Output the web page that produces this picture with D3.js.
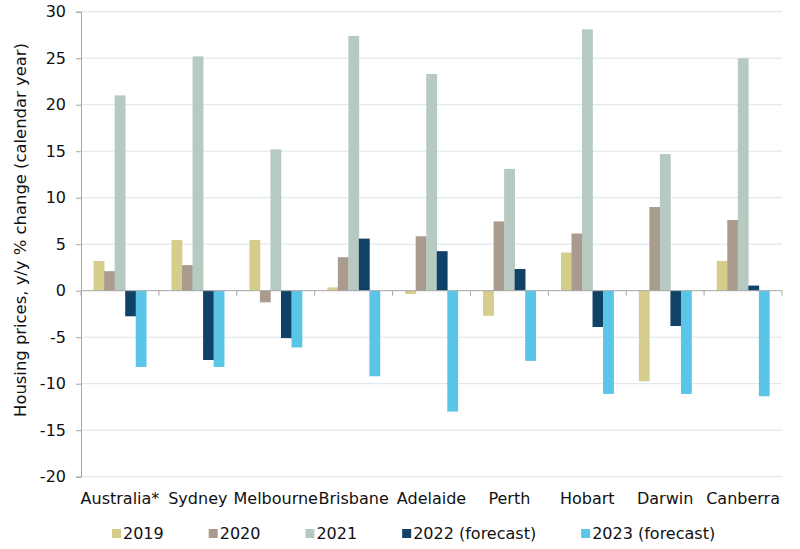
<!DOCTYPE html>
<html><head><meta charset="utf-8">
<script src="https://cdn.jsdelivr.net/npm/d3@7"></script>
<style>
html,body{margin:0;padding:0;background:#fff;}
svg text{font-family:"DejaVu Sans",Verdana,sans-serif;font-size:16px;fill:#111;}
</style></head>
<body>
<svg id="chart" width="800" height="549"></svg>
<script>
const categories = ["Australia*","Sydney","Melbourne","Brisbane","Adelaide","Perth","Hobart","Darwin","Canberra"];
const seriesNames = ["2019","2020","2021","2022 (forecast)","2023 (forecast)"];
const v2019 = [3.2, 5.45, 5.45, 0.35, -0.35, -2.7, 4.1, -9.75, 3.2];
const v2020 = [2.1, 2.75, -1.25, 3.6, 5.85, 7.45, 6.15, 9.0, 7.6];
const v2021 = [21.0, 25.2, 15.2, 27.4, 23.3, 13.1, 28.1, 14.7, 25.0];
const v2022 = [-2.75, -7.45, -5.1, 5.6, 4.25, 2.33, -3.9, -3.8, 0.55];
const v2023 = [-8.2, -8.2, -6.1, -9.2, -13.0, -7.55, -11.1, -11.1, -11.35];
const yTicks = [30,25,20,15,10,5,0,-5,-10,-15,-20];
const colors = ["#d4cd8b","#a99b8e","#b6cac2","#0f4266","#5bc5e8"];
const seriesValues = [v2019, v2020, v2021, v2022, v2023];

const svg = d3.select("#chart");
const mLeft = 81, mRight = 782, mTop = 11.7, mBottom = 476.7;

const y = d3.scaleLinear().domain([-20, 30]).range([mBottom, mTop]);
const x = d3.scaleBand().domain(categories).range([mLeft, mRight]).padding(0);
const xs = d3.scaleBand().domain(seriesNames).range([0, x.bandwidth()]).paddingInner(0).paddingOuter(1.2);

// gridlines
svg.append("g").selectAll("line").data(yTicks.filter(d => d !== 0)).join("line")
  .attr("x1", mLeft).attr("x2", mRight)
  .attr("y1", d => y(d)).attr("y2", d => y(d))
  .attr("stroke", "#dbe4ea").attr("stroke-width", 1);

// y axis
const yAxis = svg.append("g").attr("transform", `translate(${mLeft},0)`)
  .call(d3.axisLeft(y).tickValues(yTicks).tickSize(5).tickPadding(10).tickFormat(d => String(d)));
yAxis.select(".domain").attr("stroke", "#a6a6a6");
yAxis.selectAll(".tick line").attr("stroke", "#a6a6a6");
yAxis.selectAll("text").style("font-size", "16px").attr("fill", "#111");

// bars
const data = [];
categories.forEach((c, i) => seriesNames.forEach((s, j) => data.push({c, s, j, v: seriesValues[j][i]})));
svg.append("g").selectAll("rect").data(data).join("rect")
  .attr("x", d => x(d.c) + xs(d.s))
  .attr("width", xs.bandwidth() + 0.3)
  .attr("y", d => y(Math.max(0, d.v)))
  .attr("height", d => Math.abs(y(d.v) - y(0)))
  .attr("fill", d => colors[d.j]);

// x axis at zero
const xAxis = svg.append("g").attr("transform", `translate(0,${y(0)})`);
xAxis.append("line").attr("x1", mLeft).attr("x2", mRight).attr("y1", 0).attr("y2", 0).attr("stroke", "#a6a6a6");
const bounds = categories.map(c => x(c)).concat([mRight]);
xAxis.selectAll("line.tk").data(bounds).join("line").attr("class", "tk")
  .attr("x1", d => d).attr("x2", d => d).attr("y1", 0).attr("y2", 5).attr("stroke", "#a6a6a6");

// category labels
svg.append("g").selectAll("text").data(categories).join("text")
  .attr("x", d => x(d) + x.bandwidth() / 2)
  .attr("y", 504)
  .attr("text-anchor", "middle")
  .text(d => d);

// y title
svg.append("text")
  .attr("transform", "translate(26,230) rotate(-90)")
  .attr("text-anchor", "middle")
  .style("font-size", "16.4px")
  .text("Housing prices, y/y % change (calendar year)");

// legend
const lg = svg.append("g");
let lx = 112;
seriesNames.forEach((s, j) => {
  lg.append("rect").attr("x", lx).attr("y", 529).attr("width", 9).attr("height", 9).attr("fill", colors[j]);
  const t = lg.append("text").attr("x", lx + 11).attr("y", 539).text(s);
  lx += 11 + t.node().getComputedTextLength() + 45;
});
</script>
</body></html>
